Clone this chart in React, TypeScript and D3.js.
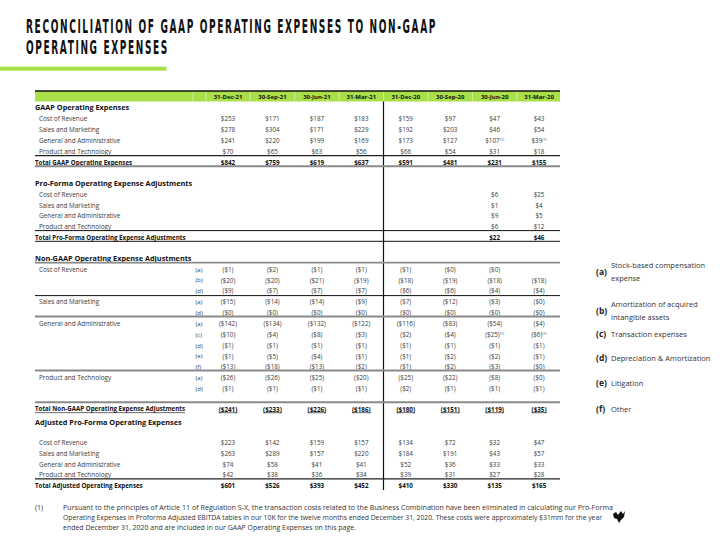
import React, { useLayoutEffect, useRef, useState } from "react";
import * as d3 from "d3";

// ---------- DATA ----------
const columns = ["31-Dec-21", "30-Sep-21", "30-Jun-21", "31-Mar-21", "31-Dec-20", "30-Sep-20", "30-Jun-20", "31-Mar-20"];
const lineItems = ["Cost of Revenue", "Sales and Marketing", "General and Administrative", "Product and Technology"];

// GAAP operating expenses ($mm)
const gaapCostOfRevenue = [253, 171, 187, 183, 159, 97, 47, 43];
const gaapSalesMarketing = [278, 304, 171, 229, 192, 203, 46, 54];
const gaapGeneralAdmin = [241, 220, 199, 169, 173, 127, 107, 39];
const gaapProductTech = [70, 65, 63, 56, 66, 54, 31, 18];
const gaapTotal = [842, 759, 619, 637, 591, 481, 231, 155];
const gaapGeneralAdminNotes = ["", "", "", "", "", "", "(1)", "(1)"];

// Pro-forma adjustments
const pfCostOfRevenue = [null, null, null, null, null, null, 6, 25];
const pfSalesMarketing = [null, null, null, null, null, null, 1, 4];
const pfGeneralAdmin = [null, null, null, null, null, null, 9, 5];
const pfProductTech = [null, null, null, null, null, null, 6, 12];
const pfTotal = [null, null, null, null, null, null, 22, 46];

// Non-GAAP adjustments (deductions, shown in parentheses)
const adjCodes = ["a", "b", "d", "a", "d", "a", "c", "d", "e", "f", "a", "d"];
const adjGroupLabels = ["Cost of Revenue", "", "", "Sales and Marketing", "", "General and Administrative", "", "", "", "", "Product and Technology", ""];
const adjCostA = [1, 2, 1, 1, 1, 0, 0, null];
const adjCostB = [20, 20, 21, 19, 18, 19, 18, 18];
const adjCostD = [9, 7, 7, 7, 6, 6, 4, 4];
const adjSalesA = [15, 14, 14, 9, 7, 12, 3, 0];
const adjSalesD = [0, 0, 0, 0, 0, 0, 0, 0];
const adjGaA = [142, 134, 132, 122, 116, 83, 54, 4];
const adjGaC = [10, 4, 8, 3, 2, 4, 25, 6];
const adjGaD = [1, 1, 1, 1, 1, 1, 1, 1];
const adjGaE = [1, 5, 4, 1, 1, 2, 2, 1];
const adjGaF = [13, 18, 13, 2, 1, 2, 3, 0];
const adjTechA = [26, 26, 25, 20, 25, 22, 8, 0];
const adjTechD = [1, 1, 1, 1, 2, 1, 1, 1];
const adjGaCNotes = ["", "", "", "", "", "", "(1)", "(1)"];
const adjTotal = [241, 233, 226, 186, 180, 151, 119, 35];

// Adjusted pro-forma operating expenses
const adjustedCostOfRevenue = [223, 142, 159, 157, 134, 72, 32, 47];
const adjustedSalesMarketing = [263, 289, 157, 220, 184, 191, 43, 57];
const adjustedGeneralAdmin = [74, 58, 41, 41, 52, 36, 33, 33];
const adjustedProductTech = [42, 38, 36, 34, 39, 31, 27, 28];
const adjustedTotal = [601, 526, 393, 452, 410, 330, 135, 165];

// Legend
const legendCodes = ["(a)", "(b)", "(c)", "(d)", "(e)", "(f)"];
const legendLabels = [
  ["Stock-based compensation", "expense"],
  ["Amortization of acquired", "intangible assets"],
  ["Transaction expenses"],
  ["Depreciation & Amortization"],
  ["Litigation"],
  ["Other"],
];

const titleLines = ["RECONCILIATION OF GAAP OPERATING EXPENSES TO NON-GAAP", "OPERATING EXPENSES"];
const footnoteLines = [
  "Pursuant to the principles of Article 11 of Regulation S-X, the transaction costs related to the Business Combination have been eliminated in calculating our Pro-Forma",
  "Operating Expenses in Proforma Adjusted EBITDA tables in our 10K for the twelve months ended December 31, 2020. These costs were approximately $31mm for the year",
  "ended December 31, 2020 and are included in our GAAP Operating Expenses on this page.",
];

// ---------- STYLE ----------
const FONT = "'Open Sans', sans-serif";
const GREEN = "#a9e04a";
const TXT = "#3a3a3a";
const TL = 35;
const TR = 560;

const x = d3.scaleBand<string>().domain(columns).range([205.8, 561.3]);
const cx = (i: number) => (x(columns[i]) as number) + x.bandwidth() / 2;
const rowsY = (start: number, n: number, pitch: number) => d3.range(n).map((i) => start + i * pitch);

const fmt = (v: number | null, neg: boolean) => (v === null ? "" : neg ? `($${v})` : `$${v}`);

function ValueRow({ y, values, neg = false, bold = false, notes, underline = false }: any) {
  return (
    <g>
      {values.map((v: number | null, i: number) =>
        v === null ? null : (
          <text
            key={i}
            x={cx(i)}
            y={y}
            dy="0.35em"
            textAnchor="middle"
            fontFamily={FONT}
            fontSize={6.3}
            fontWeight={bold ? 700 : 400}
            fill={bold ? "#111" : TXT}
            textDecoration={underline ? "underline" : undefined}
          >
            {fmt(v, neg)}
            {notes && notes[i] ? (
              <tspan fontSize={3.8} dy={-2.2}>{notes[i]}</tspan>
            ) : null}
          </text>
        )
      )}
    </g>
  );
}

function Label({ y, text, bold = false, size = 6.4, indent = 4, underline = false, color }: any) {
  return (
    <text
      x={TL + indent}
      y={y}
      dy="0.35em"
      fontFamily={FONT}
      fontSize={size}
      fontWeight={bold ? 700 : 400}
      fill={color || (bold ? "#111" : TXT)}
      textDecoration={underline ? "underline" : undefined}
    >
      {text}
    </text>
  );
}

function HLine({ y, color = "#111", w = 1 }: any) {
  return <line x1={TL} x2={TR} y1={y} y2={y} stroke={color} strokeWidth={w} />;
}

const titleTargets = [411, 143];

export default function App() {
  const titleRefs = useRef<(SVGTextElement | null)[]>([]);
  const [titleScale, setTitleScale] = useState<number[]>([0.6, 0.6]);

  useLayoutEffect(() => {
    const s = titleRefs.current.map((el, i) => {
      if (!el) return 0.6;
      const w = el.getComputedTextLength();
      return w > 0 ? titleTargets[i] / w : 0.6;
    });
    setTitleScale(s);
  }, []);

  const gaapRows = [gaapCostOfRevenue, gaapSalesMarketing, gaapGeneralAdmin, gaapProductTech];
  const pfRows = [pfCostOfRevenue, pfSalesMarketing, pfGeneralAdmin, pfProductTech];
  const adjRows = [adjCostA, adjCostB, adjCostD, adjSalesA, adjSalesD, adjGaA, adjGaC, adjGaD, adjGaE, adjGaF, adjTechA, adjTechD];
  const adjustedRows = [adjustedCostOfRevenue, adjustedSalesMarketing, adjustedGeneralAdmin, adjustedProductTech];

  const gaapY = rowsY(119, 4, 10.8);
  const pfY = rowsY(194.5, 4, 10.8);
  const adjY = rowsY(269.5, 12, 10.85);
  const adjustedY = rowsY(442.5, 4, 10.9);

  const boundaries = [193, ...columns.map((c) => x(c) as number)];
  const legendY = [272, 311, 334, 358.5, 383.5, 409];

  return (
    <svg width={720} height={540} style={{ position: "absolute", left: 0, top: 0, background: "#fff" }}>
      <rect width={720} height={540} fill="#fff" />
      {/* Title */}
      {titleLines.map((t, i) => (
        <g key={i} transform={`translate(26,${i === 0 ? 33.3 : 54.3}) scale(${titleScale[i]},1)`}>
          <text
            ref={(el) => {
              titleRefs.current[i] = el;
            }}
            x={0}
            y={0}
            fontFamily="'DejaVu Sans Condensed', 'DejaVu Sans', sans-serif"
            fontWeight={700}
            fontSize={20}
            letterSpacing={3.2}
            fill="#111"
          >
            {t}
          </text>
        </g>
      ))}
      <rect x={0} y={66.7} width={166.5} height={4} fill={GREEN} />

      {/* Header bar */}
      <rect x={TL} y={91} width={TR - TL} height={10.5} fill={GREEN} />
      <line x1={TL} x2={TR} y1={91} y2={91} stroke="#111" strokeWidth={1.6} />
      {boundaries.map((b, i) => (
        <line key={i} x1={b} x2={b} y1={92} y2={101.5} stroke="#d9f2b0" strokeWidth={0.8} />
      ))}
      {columns.map((c, i) => (
        <text key={c} x={cx(i)} y={96.5} dy="0.35em" textAnchor="middle" fontFamily={FONT} fontSize={6} fontWeight={700} fill="#111">
          {c}
        </text>
      ))}
      <line x1={383.5} x2={383.5} y1={101.5} y2={490} stroke="#111" strokeWidth={1.2} />

      {/* GAAP */}
      <Label y={107.5} text="GAAP Operating Expenses" bold size={7.3} indent={0} />
      {lineItems.map((l, i) => (
        <Label key={l} y={gaapY[i]} text={l} />
      ))}
      {gaapRows.map((r, i) => (
        <ValueRow key={i} y={gaapY[i]} values={r} notes={i === 2 ? gaapGeneralAdminNotes : undefined} />
      ))}
      <HLine y={155.6} color="#222" w={1.2} />
      <Label y={162.4} text="Total GAAP Operating Expenses" bold size={6.2} indent={0} />
      <ValueRow y={162.4} values={gaapTotal} bold />
      <HLine y={166.3} color="#8a8a8a" w={2} />

      {/* Pro-forma */}
      <Label y={183.7} text="Pro-Forma Operating Expense Adjustments" bold size={7.3} indent={0} />
      {lineItems.map((l, i) => (
        <Label key={l} y={pfY[i]} text={l} />
      ))}
      {pfRows.map((r, i) => (
        <ValueRow key={i} y={pfY[i]} values={r} />
      ))}
      <HLine y={230.6} color="#111" w={1} />
      <Label y={237.6} text="Total Pro-Forma Operating Expense Adjustments" bold size={6.2} indent={0} />
      <ValueRow y={237.6} values={pfTotal} bold />
      <HLine y={241.3} color="#111" w={1} />

      {/* Non-GAAP */}
      <Label y={258.8} text="Non-GAAP Operating Expense Adjustments" bold size={7.3} indent={0} underline />
      <HLine y={262.6} color="#8a8a8a" w={1.6} />
      {adjGroupLabels.map((l, i) => (l ? <Label key={i} y={adjY[i]} text={l} /> : null))}
      {adjCodes.map((c, i) => (
        <text key={i} x={195.5} y={adjY[i]} dy="0.35em" fontFamily={FONT} fontSize={6} fill={TXT}>
          ({c})
        </text>
      ))}
      {adjRows.map((r, i) => (
        <ValueRow key={i} y={adjY[i]} values={r} neg notes={i === 6 ? adjGaCNotes : undefined} />
      ))}
      <HLine y={295.6} color="#111" w={1} />
      <HLine y={316.6} color="#8a8a8a" w={2} />
      <HLine y={370.6} color="#8a8a8a" w={2} />
      <HLine y={402.2} color="#8a8a8a" w={2} />
      <Label y={409.3} text="Total Non-GAAP Operating Expense Adjustments" bold size={6.2} indent={0} underline />
      <ValueRow y={409.3} values={adjTotal} neg bold underline />

      {/* Adjusted */}
      <Label y={422.8} text="Adjusted Pro-Forma Operating Expenses" bold size={7.3} indent={0} />
      {lineItems.map((l, i) => (
        <Label key={l} y={adjustedY[i]} text={l} />
      ))}
      {adjustedRows.map((r, i) => (
        <ValueRow key={i} y={adjustedY[i]} values={r} />
      ))}
      <HLine y={478.8} color="#222" w={1.3} />
      <Label y={486} text="Total Adjusted Operating Expenses" bold size={6.2} indent={0} />
      <ValueRow y={486} values={adjustedTotal} bold />

      {/* Legend */}
      {legendCodes.map((c, i) => {
        const lines = legendLabels[i];
        const y0 = legendY[i] - ((lines.length - 1) * 12.5) / 2;
        return (
          <g key={c}>
            <text x={596} y={legendY[i]} dy="0.35em" fontFamily={FONT} fontSize={8.5} fontWeight={700} fill="#222">
              {c}
            </text>
            {lines.map((l, j) => (
              <text key={j} x={611} y={y0 + j * 12.5} dy="0.35em" fontFamily={FONT} fontSize={7.5} fill="#333">
                {l}
              </text>
            ))}
          </g>
        );
      })}

      {/* Footnote */}
      <text x={35} y={508} dy="0.35em" fontFamily={FONT} fontSize={7} fill="#333">(1)</text>
      {footnoteLines.map((l, i) => (
        <text
          key={i}
          x={63}
          y={508 + i * 10}
          dy="0.35em"
          fontFamily={FONT}
          fontSize={6.6}
          fill="#333"
          textLength={[550, 539, 293][i]}
          lengthAdjust="spacingAndGlyphs"
        >
          {l}
        </text>
      ))}

      {/* Logo mark */}
      <path
        d="M613,514 L616,512 L618,515 L621,511 L623,514 L625,511 L624,517 L621,520 L619,523 L617,519 L614,518 Z"
        fill="#111"
      />
    </svg>
  );
}
